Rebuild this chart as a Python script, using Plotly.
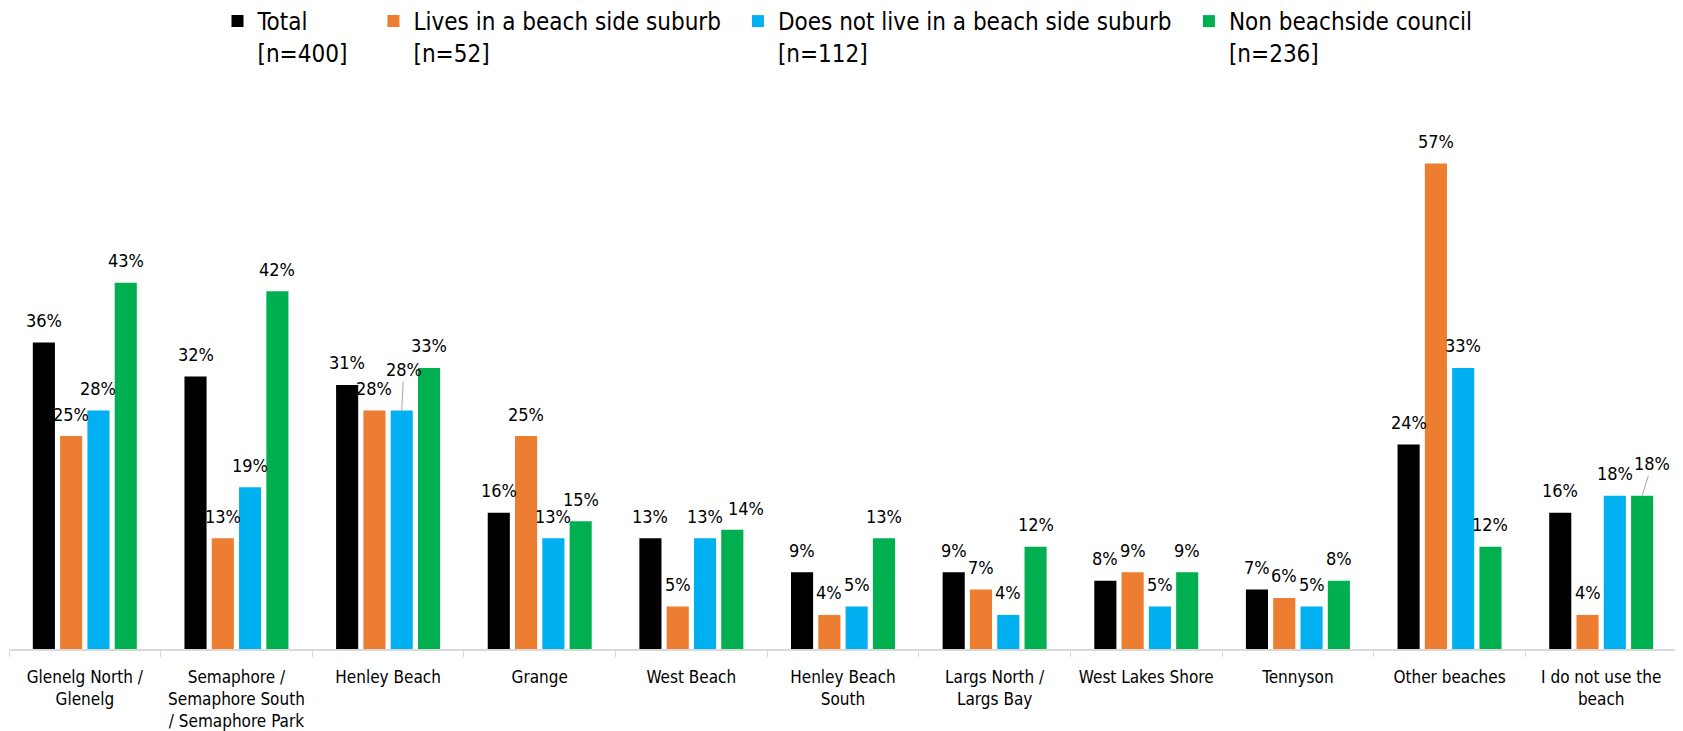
import plotly.graph_objects as go

# categories (x-axis labels)
beaches = [
    "Glenelg North /<br>Glenelg",
    "Semaphore /<br>Semaphore South<br>/ Semaphore Park",
    "Henley Beach",
    "Grange",
    "West Beach",
    "Henley Beach<br>South",
    "Largs North /<br>Largs Bay",
    "West Lakes Shore",
    "Tennyson",
    "Other beaches",
    "I do not use the<br>beach",
]

# series values (%)
total = [36, 32, 31, 16, 13, 9, 9, 8, 7, 24, 16]
beach_side = [25, 13, 28, 25, 5, 4, 7, 9, 6, 57, 4]
not_beach_side = [28, 19, 28, 13, 13, 5, 4, 5, 5, 33, 18]
non_beachside_council = [43, 42, 33, 15, 14, 13, 12, 9, 8, 12, 18]

series_names = [
    "Total<br>[n=400]",
    "Lives in a beach side suburb<br>[n=52]",
    "Does not live in a beach side suburb<br>[n=112]",
    "Non beachside council<br>[n=236]",
]
series_values = [total, beach_side, not_beach_side, non_beachside_council]
colors = ["#000000", "#ED7D31", "#00B0F0", "#00B050"]
legend_ids = ["legend", "legend2", "legend3", "legend4"]
legend_x = [0.1250, 0.2185, 0.4370, 0.7074]

FONT = "DejaVu Sans Condensed, Tahoma, sans-serif"

# page has an 8px body margin, so the figure is sized to fit the window
W, H = 1683 - 8, 731 - 8
M = dict(l=1, r=6, t=130, b=82)
BARGAP = 0.28
BARGROUPGAP = 0.19

# data label nudges like the original (series, category): (dx, rise, leader line)
label_moves = {
    (2, 2): (2, 41, True),
    (3, 10): (10, 32, True),
    (3, 4): (14, 21, False),
}

fig = go.Figure()
for name, vals, col, lg in zip(series_names, series_values, colors, legend_ids):
    fig.add_trace(go.Bar(
        x=beaches,
        y=vals,
        name=name,
        marker=dict(color=col, line=dict(width=0)),
        legend=lg,
    ))

# data labels placed above each bar
plot_w = W - M["l"] - M["r"]
slot = plot_w / len(beaches) * (1 - BARGAP) / len(series_values)
for si, vals in enumerate(series_values):
    off = (si - (len(series_values) - 1) / 2) * slot
    for ci, v in enumerate(vals):
        dx, rise, leader = label_moves.get((si, ci), (0, 22, False))
        ann = dict(
            x=beaches[ci], y=v, xref="x", yref="y",
            text=f"{v}%",
            font=dict(size=18, family=FONT, color="#000000"),
        )
        if leader:
            ann.update(xshift=off, showarrow=True, arrowhead=0, arrowwidth=1,
                       arrowcolor="#A6A6A6", standoff=0, ax=dx, ay=-rise)
        else:
            ann.update(xshift=off + dx, yshift=rise, showarrow=False,
                       yanchor="middle")
        fig.add_annotation(**ann)

layout_legends = {}
for lg, lx in zip(legend_ids, legend_x):
    layout_legends[lg] = dict(
        x=lx, y=1.272, xanchor="left", yanchor="top",
        orientation="h", valign="top",
        itemwidth=30,
        font=dict(size=24, family=FONT, color="#000000"),
        bgcolor="rgba(0,0,0,0)",
    )

fig.update_layout(
    width=W,
    height=H,
    margin=dict(**M, autoexpand=False),
    paper_bgcolor="white",
    plot_bgcolor="white",
    barmode="group",
    bargap=BARGAP,
    bargroupgap=BARGROUPGAP,
    font=dict(family=FONT, color="#000000"),
    showlegend=True,
    xaxis=dict(
        automargin=False,
        showline=True,
        linecolor="#D9D9D9",
        linewidth=1.5,
        ticks="outside",
        tickson="boundaries",
        ticklen=6,
        tickcolor="#D9D9D9",
        tickangle=0,
        ticklabelstandoff=12,
        tickfont=dict(size=17, family=FONT, color="#000000"),
        showgrid=False,
    ),
    yaxis=dict(
        automargin=False,
        range=[0, 60],
        visible=False,
        showgrid=False,
        zeroline=False,
    ),
    **layout_legends,
)

fig.write_html("out.html")
